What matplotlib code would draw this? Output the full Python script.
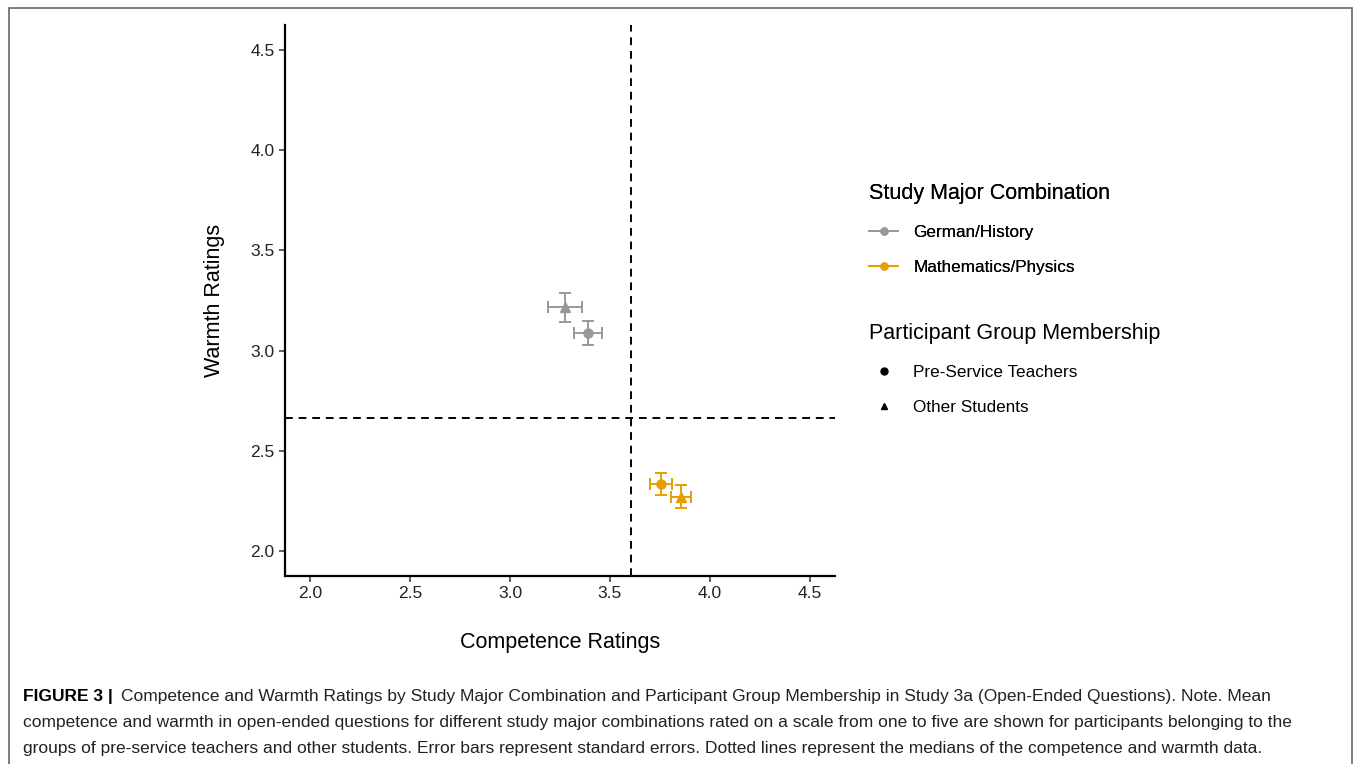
import matplotlib.pyplot as plt
from matplotlib.lines import Line2D
from matplotlib.patches import Rectangle

plt.rcParams['font.family'] = ['Liberation Sans', 'DejaVu Sans']

# Dane: średnie i błędy standardowe
majors = ['German/History', 'German/History', 'Mathematics/Physics', 'Mathematics/Physics']
groups = ['Other Students', 'Pre-Service Teachers', 'Pre-Service Teachers', 'Other Students']
competence = [3.275, 3.39, 3.755, 3.855]
warmth = [3.215, 3.09, 2.335, 2.27]
competence_se = [0.085, 0.068, 0.055, 0.05]
warmth_se = [0.07, 0.06, 0.055, 0.057]

median_competence = 3.605
median_warmth = 2.665

major_colors = {'German/History': '#999999', 'Mathematics/Physics': '#E69F00'}
group_markers = {'Pre-Service Teachers': 'o', 'Other Students': '^'}
ticks = [2.0, 2.5, 3.0, 3.5, 4.0, 4.5]

fig = plt.figure(figsize=(13.55, 7.64), dpi=100)
ax = fig.add_axes([0.2103, 0.2461, 0.4059, 0.7212])

for m, g, x, y, xe, ye in zip(majors, groups, competence, warmth, competence_se, warmth_se):
    c = major_colors[m]
    ax.errorbar(x, y, xerr=xe, yerr=ye, fmt=group_markers[g], color=c, ecolor=c,
                markersize=6.5, elinewidth=1.4, capsize=4.5, capthick=1.4, zorder=3)

ax.axvline(median_competence, color='black', linestyle=(0, (4, 3)), linewidth=1.4)
ax.axhline(median_warmth, color='black', linestyle=(0, (4, 3)), linewidth=1.4)

ax.set_xlim(1.875, 4.625)
ax.set_ylim(1.875, 4.625)
ax.set_xticks(ticks)
ax.set_yticks(ticks)
ax.set_xticklabels([f'{t:.1f}' for t in ticks])
ax.set_yticklabels([f'{t:.1f}' for t in ticks])
ax.tick_params(labelsize=12.5, colors='#333333', labelcolor='#222222', length=4, width=1.1)
for s in ['top', 'right']:
    ax.spines[s].set_visible(False)
for s in ['left', 'bottom']:
    ax.spines[s].set_linewidth(1.6)
ax.set_xlabel('Competence Ratings', fontsize=15.5, labelpad=22)
ax.set_ylabel('Warmth Ratings', fontsize=15.5, labelpad=18)

# Legendy
h_major = [Line2D([], [], color=major_colors[m], marker='o', markersize=5, linewidth=1.3)
           for m in major_colors]
leg1 = fig.legend(h_major, list(major_colors), title='Study Major Combination',
                  loc='upper left', bbox_to_anchor=(0.630, 0.780), frameon=False,
                  fontsize=12.3, title_fontsize=15.5, alignment='left',
                  handlelength=1.7, labelspacing=1.2, handletextpad=0.9)
h_group = [Line2D([], [], color='black', marker=group_markers[g], markersize=5, linestyle='none')
           for g in group_markers]
leg2 = fig.legend(h_group, list(group_markers), title='Participant Group Membership',
                  loc='upper left', bbox_to_anchor=(0.630, 0.597), frameon=False,
                  fontsize=12.3, title_fontsize=15.5, alignment='left',
                  handlelength=1.7, labelspacing=1.2, handletextpad=0.9)
fig.add_artist(leg1)

# Ramka i podpis
fig.add_artist(Rectangle((9 / 1355, -0.05), 1343 / 1355, 1.05 - 8 / 764,
                         transform=fig.transFigure, fill=False, edgecolor='#666666', linewidth=1.2))

caption_lines = [
    'Competence and Warmth Ratings by Study Major Combination and Participant Group Membership in Study 3a (Open-Ended Questions). Note. Mean',
    'competence and warmth in open-ended questions for different study major combinations rated on a scale from one to five are shown for participants belonging to the',
    'groups of pre-service teachers and other students. Error bars represent standard errors. Dotted lines represent the medians of the competence and warmth data.',
]
fig.text(23 / 1355, 1 - 696 / 764, 'FIGURE 3 |', fontsize=12.5, fontweight='bold', va='center')
fig.text(121 / 1355, 1 - 696 / 764, caption_lines[0], fontsize=12.5, va='center', color='#222222')
fig.text(23 / 1355, 1 - 722 / 764, caption_lines[1], fontsize=12.5, va='center', color='#222222')
fig.text(23 / 1355, 1 - 748 / 764, caption_lines[2], fontsize=12.5, va='center', color='#222222')

fig.savefig('out.png', dpi=100)
